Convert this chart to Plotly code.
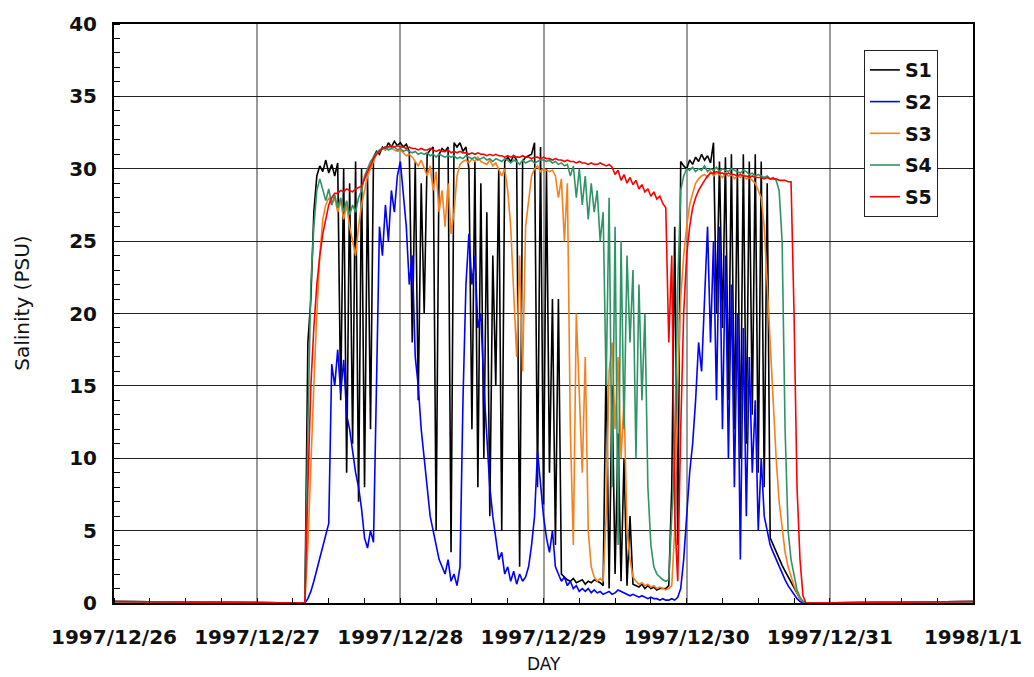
import pandas as pd
import plotly.graph_objects as go

# ---- data (salinity, PSU), 30-minute readings starting 1997-12-27 08:00 ----
t_start = "1997-12-27 08:00"
t_step = "30min"
t_first = "1997-12-26 00:00"   # flat 0 before the record
t_last = "1998-01-01 00:00"    # flat 0 after the record
flat_val = 0.1

s1 = [0, 18, 21, 27, 29.5, 30.2, 29.8, 30.6, 29.7, 30.3,
      29.5, 30.4, 14, 30, 9, 29, 11, 30.5, 7, 30,
      8, 29.5, 12, 30.8, 31.2, 31.0, 31.5, 31.3, 31.8, 31.5,
      31.9, 31.6, 31.8, 31.5, 31.7, 31.2, 18, 30.5, 14, 29,
      20, 31, 31.3, 31.5, 5, 31, 31.4, 31.2, 31.5, 3.5,
      31.8, 31.5, 31.8, 31.2, 31.5, 30, 12, 30.5, 8, 29,
      10, 27, 6, 24, 15, 30, 5, 30.5, 30.8, 30.5,
      30.9, 30.6, 2.5, 30.5, 30.8, 30.9, 31.0, 31.8, 8, 31.5,
      6.8, 30, 9, 21, 4, 21, 2, 1.8, 1.6, 1.5,
      1.7, 1.4, 1.5, 1.6, 1.3, 1.5, 1.4, 1.6, 1.5, 1.4,
      1.2, 17, 1, 15, 2, 11.7, 1.5, 10, 1.2, 6,
      1.3, 1.2, 1.1, 1.3, 1.0, 1.2, 1.0, 1.1, 0.9, 1.0,
      1.0, 1.0, 1.2, 8, 26, 4, 30.5, 30.2, 30.0, 30.6,
      30.3, 30.8, 30.5, 31.0, 30.6, 30.9, 30.4, 31.8, 20, 30.5,
      19, 30.8, 14, 31, 12, 30, 10, 31, 11, 30.5,
      13, 31, 9, 30.5, 8, 29, 4.5, 4.0, 3.5, 3.0,
      2.6, 2.2, 1.8, 1.4, 1.0, 0.6, 0.3, 0.1, 0]

s2 = [0, 0.3, 0.8, 1.5, 2.3, 3.0, 4.0, 4.8, 5.5, 16.5,
      15, 17.5, 14.5, 16.8, 13, 12, 10.5, 9, 8, 6.5,
      4.5, 3.8, 5, 4.2, 15, 26, 24, 27.5, 25, 28.5,
      27, 29.5, 30.5, 28, 26, 22, 24, 17, 15, 12,
      10, 8, 6, 5, 4, 3, 2.5, 2, 3, 1.5,
      2, 1.2, 2.5, 14, 22, 25.5, 22, 24, 19, 20,
      15, 11, 8, 6, 4.5, 3, 3.5, 2, 2.5, 1.5,
      2.2, 1.3, 2, 1.5, 1.8, 2.5, 4, 6, 10.5, 8,
      6, 4.5, 3.5, 5, 2.5, 2, 1.5, 1.8, 1.2, 1.5,
      1.0, 1.2, 0.8, 1.0, 0.8, 1.0, 0.7, 0.9, 0.7, 0.8,
      0.6, 0.7, 0.8, 0.6, 0.7, 0.9, 0.8, 0.7, 0.6, 0.5,
      0.6, 0.5, 0.4, 0.5, 0.4, 0.3, 0.4, 0.3, 0.3, 0.2,
      0.3, 0.2, 0.2, 0.3, 0.2, 0.4, 1, 3, 6, 9,
      11, 14, 18, 16, 21, 26, 18, 25, 14, 26,
      12, 24, 10, 22, 8, 20, 3, 19, 6, 17,
      9, 14, 5, 10, 6, 5, 4, 3.5, 3, 2.5,
      2, 1.6, 1.2, 0.9, 0.6, 0.3, 0.1, 0, 0]

s3 = [0, 4, 10, 15, 20, 24, 26.5, 27.5, 28, 27.5,
      28, 27, 27.8, 26.5, 27.5, 26, 25, 24, 26, 27.5,
      28.5, 29.5, 30, 30.5, 31, 31.2, 31.4, 31.3, 31.5, 31.4,
      31.3, 31.2, 31.3, 31.1, 30.9, 31.0, 30.8, 30.5, 30.2, 30.6,
      30.0, 29.5, 30.2, 28.5, 29.8, 27, 28.5, 26, 29, 25.5,
      27, 29.5, 30.3, 30.5, 30.6, 30.4, 30.7, 30.5, 30.8, 30.5,
      30.4, 30.3, 30.6, 30.2, 30.4, 30, 29.5, 30, 28.5, 26,
      22, 17, 24, 16, 26, 28, 29.5, 30, 30.2, 29.8,
      30, 29.9, 29.8, 29.9, 29.5, 28, 29.3, 25, 29, 12,
      4, 20, 15, 9, 17, 5, 2.5, 1.8, 1.5, 1.7,
      1.5, 6, 16, 18, 12, 17, 10, 14, 5, 3,
      1.8, 1.5, 1.3, 1.4, 1.2, 1.3, 1.1, 1.2, 1.0, 1.1,
      1.0, 0.9, 1.0, 1.2, 5, 15, 21, 24, 26, 27.5,
      28.3, 29, 29.3, 29.5, 29.6, 29.4, 29.8, 29.5, 29.7, 29.6,
      29.4, 29.7, 29.5, 29.6, 29.3, 29.5, 29.4, 29.6, 29.3, 29.4,
      29.2, 29, 28.5, 28, 26, 22, 18, 14, 10, 7,
      5, 3.5, 2.5, 1.8, 1.2, 0.7, 0.3, 0.1, 0]

s4 = [0, 12, 22, 26, 28.5, 29.3, 28.5, 27.8, 28.6, 27.5,
      28.2, 27.3, 28, 27, 27.8, 26.8, 27.5, 27, 28, 28.5,
      29.5, 30, 30.5, 30.8, 31.1, 31.3, 31.4, 31.5, 31.3, 31.4,
      31.5, 31.3, 31.4, 31.2, 31.3, 31.2, 31.1, 31.2, 31.0, 31.1,
      31.0, 31.1, 30.9, 31.0, 30.8, 31.0, 30.9, 30.8, 30.9, 30.8,
      30.9, 30.7, 30.8, 30.7, 30.9, 30.8, 30.7, 30.8, 30.6, 30.7,
      30.8, 30.6, 30.7, 30.5, 30.7, 30.6, 30.5, 30.7, 30.6, 30.4,
      30.6, 30.5, 30.3, 30.6, 30.4, 30.5, 30.6, 30.4, 30.5, 30.6,
      30.6, 30.5, 30.6, 30.4, 30.5, 30.3, 30.4, 30.2, 30.3, 29.5,
      30.2, 28, 30, 27.5, 29.5, 26.5, 29, 27, 28.5, 25,
      27, 15, 28, 8, 26, 4, 25, 12, 24, 18,
      23, 10, 22, 14, 20, 8, 4, 2.5, 2, 1.8,
      1.6, 1.5, 1.6, 6, 10, 22, 28.5, 29.5, 30, 29.9,
      30.1, 29.8, 30.0, 29.9, 30.2, 29.8, 30.0, 29.9, 30.1, 29.8,
      30.0, 29.9, 29.8, 30.0, 29.9, 29.8, 29.7, 29.9, 29.8, 29.6,
      29.7, 29.5, 29.6, 29.5, 29.4, 29.5, 29.3, 29.4, 29.2, 28.5,
      25, 12, 5, 3, 1.8, 0.9, 0.4, 0.1, 0]

s5 = [0, 8, 15, 19, 22, 24, 25.5, 26.5, 27.5, 28,
      28.3, 28.3, 28.5, 28.4, 28.6, 28.5, 28.4, 28.6, 28.7, 28.8,
      29.3, 29.8, 30.3, 30.7, 31.0, 31.2, 31.4, 31.5, 31.5, 31.6,
      31.5, 31.6, 31.5, 31.5, 31.4, 31.5, 31.4, 31.4, 31.3, 31.4,
      31.3, 31.3, 31.4, 31.3, 31.2, 31.3, 31.2, 31.2, 31.3, 31.1,
      31.2, 31.1, 31.2, 31.1, 31.1, 31.0, 31.1, 31.0, 31.1, 31.0,
      31.0, 30.9, 31.0, 30.9, 31.0, 30.9, 30.9, 30.8, 30.9, 30.8,
      30.9, 30.8, 30.8, 30.9, 30.8, 30.8, 30.7, 30.8, 30.8, 30.7,
      30.8, 30.7, 30.7, 30.6, 30.7, 30.6, 30.6, 30.5, 30.6, 30.5,
      30.5, 30.4, 30.5, 30.4, 30.4, 30.3, 30.4, 30.3, 30.3, 30.4,
      30.3, 30.2, 30.3, 30.1, 29.6, 29.9, 29.2, 29.6, 29.0, 29.4,
      28.9, 29.2, 28.6, 28.9, 28.4, 28.6, 28.1, 28.4, 27.9, 28.1,
      27.6, 27.3, 18, 24, 6, 1.5, 12, 20, 24, 26,
      27.3, 28, 28.5, 28.9, 29.2, 29.5, 29.7, 29.7, 29.8, 29.7,
      29.7, 29.6, 29.7, 29.6, 29.6, 29.5, 29.6, 29.5, 29.5, 29.4,
      29.5, 29.4, 29.4, 29.4, 29.3, 29.4, 29.3, 29.3, 29.3, 29.2,
      29.2, 29.2, 29.1, 29.1, 20, 8, 3, 0.5, 0]

series_names = ["S1", "S2", "S3", "S4", "S5"]
series_vals = [s1, s2, s3, s4, s5]
series_colors = ["#000000", "#0000ff", "#f5801e", "#2e9466", "#ff0000"]

x_ticks = ["1997-12-26", "1997-12-27", "1997-12-28", "1997-12-29",
           "1997-12-30", "1997-12-31", "1998-01-01"]
x_ticktext = ["1997/12/26", "1997/12/27", "1997/12/28", "1997/12/29",
              "1997/12/30", "1997/12/31", "1998/1/1"]
y_ticks = [0, 5, 10, 15, 20, 25, 30, 35, 40]

times = list(pd.date_range(t_start, periods=len(s1), freq=t_step))
x_all = [pd.Timestamp(t_first)] + times + [pd.Timestamp(t_last)]

fig = go.Figure()
for name, vals, col in zip(series_names, series_vals, series_colors):
    fig.add_trace(go.Scatter(
        x=x_all, y=[flat_val] + vals + [flat_val], mode="lines", name=name,
        legendgroup=name,
        line=dict(color=col, width=1.6),
    ))

tick_font = dict(family="DejaVu Sans", size=20, color="#111", weight="bold")

fig.update_layout(
    width=1034, height=677,
    margin=dict(l=114, r=58, t=22, b=74),
    paper_bgcolor="white", plot_bgcolor="white",
    showlegend=True,
    legend=dict(
        x=0.873, y=0.955, xanchor="left", yanchor="top",
        bgcolor="white", bordercolor="#222", borderwidth=1,
        font=dict(family="DejaVu Sans", size=19, color="#111", weight="bold"),
        tracegroupgap=4, itemwidth=30,
    ),
    xaxis=dict(
        type="date",
        range=[x_ticks[0], x_ticks[-1]],
        tickmode="array", tickvals=x_ticks, ticktext=x_ticktext,
        tickfont=tick_font, ticks="", ticklabelstandoff=15,
        showgrid=True, gridcolor="#9a9a9a", gridwidth=2,
        showline=True, linecolor="#000", linewidth=2, mirror=True,
        zeroline=False,
        minor=dict(dtick=6 * 3600 * 1000, ticks="inside", ticklen=5,
                   tickcolor="#000", tickwidth=1, showgrid=False),
    ),
    yaxis=dict(
        range=[0, 40],
        tickmode="array", tickvals=y_ticks,
        tickfont=dict(family="DejaVu Sans", size=20, color="#111", weight="bold"),
        ticks="", ticklabelstandoff=11,
        showgrid=True, gridcolor="#222", gridwidth=1.3,
        showline=True, linecolor="#000", linewidth=2, mirror=True,
        zeroline=False,
        minor=dict(dtick=1, ticks="inside", ticklen=6,
                   tickcolor="#000", tickwidth=1, showgrid=False),
    ),
    annotations=[
        dict(text="Salinity (PSU)", xref="paper", yref="paper",
             x=-0.107, y=0.517, xanchor="center", yanchor="middle",
             textangle=-90, showarrow=False,
             font=dict(family="DejaVu Sans", size=20, color="#111")),
        dict(text="DAY", xref="paper", yref="paper",
             x=0.500, y=-0.1256, xanchor="center", yanchor="bottom",
             showarrow=False,
             font=dict(family="DejaVu Sans", size=17, color="#111")),
    ],
)

fig.write_html("out.html")
